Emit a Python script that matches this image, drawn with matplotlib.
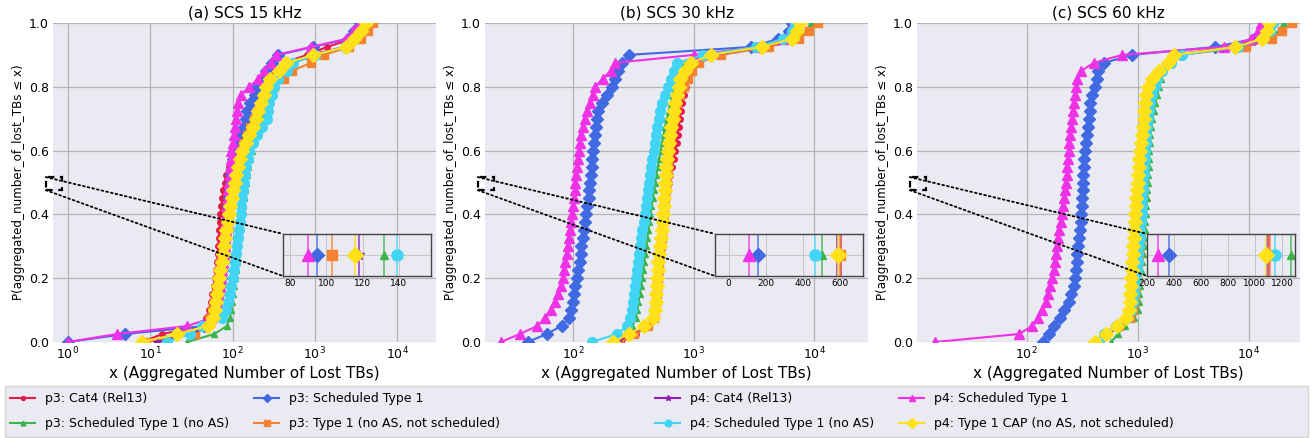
import numpy as np
import matplotlib
matplotlib.use('Agg')
import matplotlib.pyplot as plt
from matplotlib.patches import Rectangle, ConnectionPatch
from matplotlib.ticker import MultipleLocator

# series labels / styles (plot order)
labels = ['p3: Cat4 (Rel13)', 'p3: Scheduled Type 1', 'p3: Scheduled Type 1 (no AS)',
          'p3: Type 1 (no AS, not scheduled)', 'p4: Cat4 (Rel13)', 'p4: Scheduled Type 1',
          'p4: Scheduled Type 1 (no AS)', 'p4: Type 1 CAP (no AS, not scheduled)']
colors = ['#e6194b', '#4169e1', '#3cb44b', '#f58231', '#911eb4', '#f032e6', '#42d4f4', '#ffe119']
markers = ['o', 'D', '^', 's', '*', '^', 'o', 'D']
msizes = [4, 6, 5, 6, 6, 7, 7, 7]

# aggregated number of lost TBs per run (sorted samples) - SCS 15 kHz
a_p3_cat4 = [8, 14, 42, 48, 52, 55, 57, 59, 61, 63, 65, 66, 67, 68, 69, 70, 71, 73, 75, 77, 80, 84, 90, 100, 115, 135, 155, 175, 190, 200, 215, 235, 255, 280, 320, 420, 800, 1400, 2800, 3800, 4600]
a_p3_sched = [1, 5, 45, 60, 64, 67, 69, 71, 73, 75, 77, 79, 81, 83, 85, 86, 87, 89, 91, 93, 95, 97, 100, 102, 105, 115, 125, 138, 145, 150, 165, 185, 200, 230, 255, 300, 360, 950, 2500, 3000, 3500]
a_p3_noas = [28, 60, 85, 92, 96, 99, 102, 105, 107, 109, 112, 114, 117, 120, 124, 128, 131, 134, 137, 141, 145, 150, 155, 162, 170, 180, 195, 210, 225, 240, 260, 280, 300, 340, 400, 520, 1100, 2600, 3400, 4200, 4900]
a_p3_type1 = [9, 35, 45, 52, 56, 60, 63, 66, 68, 70, 72, 74, 77, 80, 83, 86, 89, 92, 95, 99, 103, 107, 112, 118, 125, 135, 150, 165, 180, 200, 225, 260, 320, 420, 520, 900, 1300, 2600, 3600, 4400, 5000]
a_p4_cat4 = [12, 30, 52, 59, 62, 64, 66, 68, 70, 72, 75, 78, 80, 83, 86, 89, 92, 96, 100, 104, 108, 113, 118, 124, 132, 146, 160, 176, 190, 206, 222, 240, 258, 290, 370, 460, 900, 2300, 3000, 3500, 4000]
a_p4_sched = [1, 3.9, 28, 55, 62, 65, 67, 70, 72, 74, 76, 78, 80, 81, 83, 84, 85, 86, 87, 89, 90, 92, 93, 95, 97, 100, 103, 106, 109, 112, 115, 125, 160, 205, 240, 290, 340, 900, 2400, 2900, 3400]
a_p4_noas = [16, 30, 42, 75, 84, 88, 92, 96, 100, 104, 107, 110, 113, 116, 119, 122, 125, 128, 131, 134, 137, 142, 147, 152, 160, 175, 200, 230, 260, 270, 280, 300, 320, 360, 460, 540, 1000, 2300, 3000, 3600, 4100]
a_p4_cap = [8, 21, 50, 58, 61, 63, 65, 67, 69, 71, 74, 77, 79, 81, 84, 87, 90, 94, 98, 102, 106, 111, 116, 122, 130, 145, 160, 175, 190, 205, 222, 238, 255, 285, 370, 450, 950, 2400, 3000, 3600, 4200]

# SCS 30 kHz
b_p3_cat4 = [250, 330, 410, 460, 478, 486, 493, 500, 507, 514, 521, 529, 538, 547, 557, 567, 577, 588, 600, 612, 625, 640, 658, 680, 705, 720, 735, 750, 765, 780, 800, 825, 860, 900, 940, 1050, 1500, 4000, 7000, 8800, 9700]
b_p3_sched = [42, 60, 80, 92, 96, 99, 101, 104, 107, 110, 113, 115, 117, 120, 122, 125, 128, 131, 134, 136, 138, 140, 142, 144, 146, 149, 152, 155, 158, 162, 172, 190, 208, 222, 236, 255, 290, 3000, 5000, 6200, 6600]
b_p3_noas = [200, 270, 310, 330, 340, 348, 356, 364, 372, 380, 388, 396, 404, 412, 420, 428, 437, 446, 456, 466, 478, 490, 503, 517, 531, 546, 562, 580, 600, 622, 645, 670, 700, 740, 790, 850, 1300, 3500, 6500, 8500, 9500]
b_p3_type1 = [240, 320, 420, 465, 480, 488, 494, 500, 506, 512, 518, 525, 533, 541, 550, 558, 565, 572, 579, 586, 593, 600, 608, 617, 627, 638, 650, 664, 680, 700, 730, 770, 830, 900, 960, 1100, 1700, 4200, 7500, 9000, 10700]
b_p4_cat4 = [230, 300, 400, 458, 476, 483, 488, 493, 498, 503, 509, 516, 525, 535, 545, 553, 560, 566, 572, 578, 584, 590, 597, 606, 616, 628, 641, 655, 670, 686, 706, 728, 752, 780, 850, 960, 1450, 3800, 6600, 7300, 7700]
b_p4_sched = [25, 36, 50, 58, 65, 70, 75, 79, 82, 84, 86, 88, 90, 92, 94, 96, 98, 100, 102, 103, 104, 105, 107, 109, 111, 113, 116, 120, 125, 131, 138, 145, 152, 175, 205, 220, 1000, 3500, 5500, 6300, 6700]
b_p4_noas = [142, 230, 280, 298, 306, 313, 319, 325, 332, 339, 346, 353, 360, 367, 375, 383, 392, 400, 408, 416, 424, 433, 443, 454, 465, 477, 488, 500, 512, 527, 545, 575, 610, 645, 685, 730, 1200, 3300, 5500, 6500, 7000]
b_p4_cap = [214, 290, 390, 455, 478, 484, 488, 492, 497, 502, 508, 515, 524, 534, 544, 551, 557, 563, 569, 575, 581, 587, 593, 603, 613, 625, 638, 652, 667, 683, 703, 725, 750, 775, 840, 950, 1400, 3700, 6500, 7200, 7600]

# SCS 60 kHz
c_p3_cat4 = [440, 530, 700, 860, 905, 930, 950, 968, 982, 995, 1008, 1020, 1032, 1043, 1053, 1062, 1070, 1078, 1085, 1092, 1100, 1108, 1117, 1127, 1138, 1150, 1165, 1180, 1198, 1220, 1250, 1290, 1350, 1440, 1600, 1900, 2300, 8500, 13500, 15500, 16500]
c_p3_sched = [141, 158, 175, 200, 218, 240, 253, 264, 270, 276, 281, 286, 291, 297, 302, 306, 309, 312, 315, 318, 321, 324, 327, 331, 336, 343, 350, 358, 363, 368, 375, 388, 410, 428, 440, 500, 880, 5000, 11000, 14000, 15000]
c_p3_noas = [577, 660, 760, 920, 1000, 1015, 1028, 1040, 1055, 1070, 1090, 1110, 1125, 1138, 1152, 1168, 1180, 1192, 1205, 1218, 1230, 1240, 1250, 1260, 1270, 1285, 1300, 1325, 1350, 1390, 1440, 1500, 1560, 1620, 1680, 1900, 2300, 9000, 15000, 18500, 20500]
c_p3_type1 = [430, 510, 680, 850, 900, 925, 945, 962, 977, 990, 1003, 1015, 1027, 1038, 1048, 1057, 1066, 1075, 1084, 1093, 1102, 1112, 1122, 1133, 1145, 1158, 1172, 1188, 1206, 1228, 1256, 1295, 1355, 1450, 1620, 1950, 2400, 9500, 16000, 20000, 24500]
c_p4_cat4 = [420, 500, 660, 810, 850, 870, 885, 897, 907, 917, 927, 937, 947, 957, 967, 977, 987, 998, 1010, 1022, 1035, 1048, 1060, 1072, 1085, 1100, 1118, 1138, 1160, 1180, 1205, 1240, 1290, 1380, 1550, 1800, 2100, 7000, 12000, 13500, 14000]
c_p4_sched = [15, 85, 112, 126, 138, 148, 156, 163, 169, 175, 180, 184, 188, 192, 197, 202, 207, 212, 217, 222, 226, 229, 232, 235, 238, 241, 244, 248, 254, 260, 266, 272, 278, 285, 310, 400, 720, 6000, 10500, 12000, 12800]
c_p4_noas = [450, 500, 640, 800, 870, 900, 920, 940, 960, 980, 995, 1010, 1025, 1040, 1055, 1070, 1080, 1090, 1100, 1110, 1120, 1130, 1140, 1150, 1162, 1175, 1190, 1210, 1235, 1265, 1300, 1350, 1420, 1500, 1650, 2000, 2500, 8000, 13000, 15500, 16500]
c_p4_cap = [409, 520, 650, 790, 830, 845, 858, 868, 876, 884, 892, 902, 912, 922, 932, 940, 950, 960, 972, 985, 1000, 1012, 1022, 1032, 1045, 1065, 1085, 1105, 1125, 1140, 1165, 1195, 1240, 1340, 1560, 1850, 2120, 7500, 13000, 14500, 15000]

# zoomed-in values shown in the insets (same series order)
inset_a = [72, 95, 132, 103, 118, 90, 139, 116]
inset_b = [605, 155, 503, 597, 585, 108, 465, 590]
inset_c = [1102, 360, 1265, 1115, 1092, 280, 1150, 1080]

titles = ['(a) SCS 15 kHz', '(b) SCS 30 kHz', '(c) SCS 60 kHz']
panel_data = [
    [a_p3_cat4, a_p3_sched, a_p3_noas, a_p3_type1, a_p4_cat4, a_p4_sched, a_p4_noas, a_p4_cap],
    [b_p3_cat4, b_p3_sched, b_p3_noas, b_p3_type1, b_p4_cat4, b_p4_sched, b_p4_noas, b_p4_cap],
    [c_p3_cat4, c_p3_sched, c_p3_noas, c_p3_type1, c_p4_cat4, c_p4_sched, c_p4_noas, c_p4_cap],
]
insets = [inset_a, inset_b, inset_c]
xlims = [(0.66, 29500), (18.5, 28000), (10.3, 28800)]
inset_xlims = [(76, 158), (-75, 725), (199, 1300)]
inset_steps = [20, 200, 200]

bg = '#eaeaf2'
W, H = 1313, 438
fig = plt.figure(figsize=(W / 100, H / 100), dpi=100)
lefts = [53, 485, 917]

handles = []
for k in range(3):
    ax = fig.add_axes([lefts[k] / W, 96 / H, 383 / W, 319 / H])
    ax.set_facecolor(bg)
    lines = []
    for s, vals in enumerate(panel_data[k]):
        x = np.sort(np.asarray(vals, dtype=float))
        y = np.arange(len(x)) / (len(x) - 1)
        ln, = ax.plot(x, y, color=colors[s], marker=markers[s], ms=msizes[s], lw=1.5, label=labels[s])
        lines.append(ln)
    if k == 0:
        handles = lines
    ax.set_xscale('log')
    ax.set_xlim(xlims[k])
    ax.set_ylim(0, 1.0)
    ax.grid(True, which='major', color='#b4b4b4', lw=0.9)
    ax.set_axisbelow(True)
    for sp in ax.spines.values():
        sp.set_visible(False)
    ax.tick_params(length=0, labelsize=9, pad=3)
    ax.tick_params(which='minor', length=0)
    ax.set_title(titles[k], fontsize=11, pad=4)
    ax.set_xlabel('x (Aggregated Number of Lost TBs)', fontsize=11, labelpad=2)
    ax.set_ylabel('P(aggregated_number_of_lost_TBs ≤ x)', fontsize=8.6, labelpad=3)

    # inset
    ins = ax.inset_axes([0.60, 0.207, 0.388, 0.132])
    ins.set_facecolor(bg)
    for s, v in enumerate(insets[k]):
        ins.axvline(v, color=colors[s], lw=1.3, alpha=0.75)
        ins.plot([v], [0.5], marker=markers[s], color=colors[s], ms=msizes[s] + 1, ls='none')
    ins.set_xlim(inset_xlims[k])
    ins.xaxis.set_major_locator(MultipleLocator(inset_steps[k]))
    ins.set_ylim(0.4, 0.6)
    ins.set_yticks([0.5])
    ins.set_yticklabels([])
    ins.grid(True, color='#c4c4c4', lw=0.7)
    ins.set_axisbelow(True)
    ins.tick_params(length=0, labelsize=6.5, pad=2)
    for sp in ins.spines.values():
        sp.set_color('#444444')
        sp.set_linewidth(1.0)

    # zoom marker + connectors
    ax.add_patch(Rectangle((-0.019, 0.476), 0.042, 0.041, transform=ax.transAxes, fill=False,
                           ls=(0, (3, 2.5)), lw=1.6, ec='black', clip_on=False, zorder=6))
    for ya, yb in [(0.517, 1), (0.476, 0)]:
        con = ConnectionPatch(xyA=(-0.019, ya), coordsA=ax.transAxes, xyB=(0, yb), coordsB=ins.transAxes,
                              ls=':', lw=1.3, color='black', zorder=6)
        ax.add_artist(con)

# legend background and two legend blocks
fig.patches.append(Rectangle((5 / W, 1 / H), 1303 / W, 51 / H, transform=fig.transFigure,
                             fc=bg, ec='#d5d5d5', lw=1, zorder=0))
order1 = [handles[0], handles[2], handles[1], handles[3]]
order2 = [handles[4], handles[6], handles[5], handles[7]]
for hs, x0 in [(order1, 5), (order2, 650)]:
    fig.legend(handles=hs, labels=[h.get_label() for h in hs], ncol=2, loc='upper left',
               bbox_to_anchor=(x0 / W, (H - 387) / H), bbox_transform=fig.transFigure, frameon=False,
               fontsize=9, markerscale=0.7, labelspacing=0.95, borderaxespad=0)

fig.savefig('out.png', dpi=100)
